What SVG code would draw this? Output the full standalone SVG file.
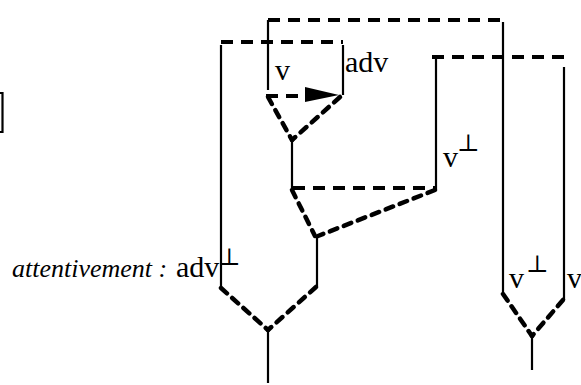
<svg xmlns="http://www.w3.org/2000/svg" width="581" height="385" viewBox="0 0 581 385">
<style>
.s{fill:none;stroke:#000;stroke-width:2.2}
.d{fill:none;stroke:#000;stroke-width:4;stroke-dasharray:12 8}
.dd{fill:none;stroke:#000;stroke-width:4.5;stroke-dasharray:8 7;stroke-linecap:round}
.t{font-family:"Liberation Serif","Times New Roman",serif;font-size:30px;fill:#000}
.i{font-family:"Liberation Serif","Times New Roman",serif;font-size:26px;font-style:italic;fill:#000}
.p{font-family:"DejaVu Serif","Liberation Serif",serif;font-size:24px;fill:#000}
</style>
<rect width="581" height="385" fill="#fff"/>
<g id="connectors">
<path class="s" d="M0,93H2.5V132H0"/>
<path class="d" d="M268,20H503"/>
<path class="d" d="M221,42H343"/>
<path class="d" d="M432,57H564"/>
<path class="s" d="M268,20V90"/>
<path class="s" d="M221,45V287"/>
<path class="s" d="M343,45V95"/>
<path class="s" d="M503,22V293"/>
<path class="s" d="M436,58V190"/>
<path class="s" d="M564,67V300"/>
<path class="d" d="M266,96H305"/>
<polygon points="305,87 305,102 339,95" fill="#000"/>
<path class="dd" d="M268,97L292,140"/>
<path class="dd" d="M340,97L292,140"/>
<path class="s" d="M292,140V188"/>
<path class="d" d="M293,188H436"/>
<path class="dd" d="M292,190L315,236"/>
<path class="dd" d="M435,190L318,236"/>
<path class="s" d="M317,237V287"/>
<path class="dd" d="M221,288L268,330"/>
<path class="dd" d="M316,287L268,330"/>
<path class="s" d="M268,330V383"/>
<path class="dd" d="M503,294L532,336"/>
<path class="dd" d="M563,300L532,336"/>
<path class="s" d="M532,336V370"/>
</g>
<g id="labels">
<text class="t" x="275" y="80">v</text>
<text class="t" x="345" y="72">adv</text>
<g id="vperp1"><text class="t" x="443" y="167">v</text><text class="p" x="457" y="151">⊥</text></g>
<g id="adverb"><text class="i" x="12" y="277">attentivement :</text><text class="t" x="176" y="277">adv</text><text class="p" x="218" y="265">⊥</text></g>
<g id="vperp2"><text class="t" x="509" y="288">v</text><text class="p" x="526" y="272">⊥</text></g>
<text class="t" x="567" y="288">v</text>
</g>
</svg>
